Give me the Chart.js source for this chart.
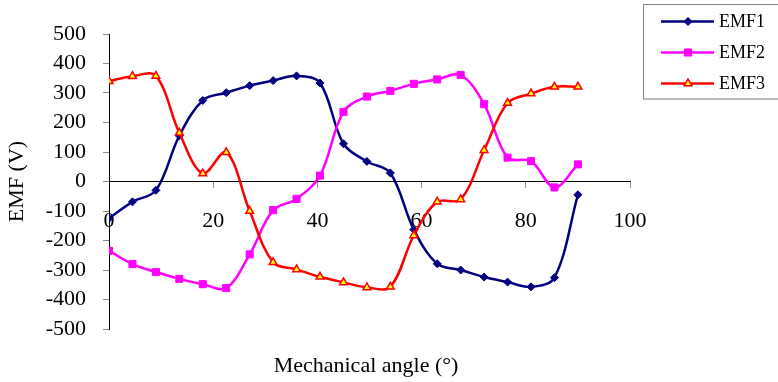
<!DOCTYPE html>
<html>
<head>
<meta charset="utf-8">
<script src="https://cdn.jsdelivr.net/npm/chart.js@4/dist/chart.umd.min.js"></script>
<style>
  html, body { margin: 0; padding: 0; background: #fff; }
  #wrap { width: 778px; height: 382px; }
</style>
</head>
<body>
<div id="wrap"><canvas id="c" width="778" height="382"></canvas></div>
<script>
// Mechanical angle samples (degrees)
const angles = [0, 4.5, 9, 13.5, 18, 22.5, 27, 31.5, 36, 40.5, 45, 49.5, 54, 58.5, 63, 67.5, 72, 76.5, 81, 85.5, 90];

// Back-EMF of the three phases (V)
const emf1 = [-125, -69, -30, 155, 275, 301, 325, 342, 358, 334, 128, 68, 29, -163, -279, -300, -324, -341, -357, -326, -45];
const emf2 = [-235, -280, -307, -330, -348, -361, -247, -97, -59, 20, 236, 288, 307, 331, 346, 361, 262, 81, 69, -20, 58];
const emf3 = [340, 357, 358, 165, 27, 99, -100, -274, -298, -323, -342, -359, -357, -183, -69, -61, 106, 266, 298, 321, 321];

const seriesNames = ['EMF1', 'EMF2', 'EMF3'];
const xTitle = 'Mechanical angle (\u00B0)';
const yTitle = 'EMF (V)';

const SERIF = "'Liberation Serif', 'Times New Roman', serif";

function toPoints(ys) {
  return angles.map((a, i) => ({ x: a, y: ys[i] }));
}

// Boxed legend on the right, built from the datasets
const boxLegend = {
  id: 'boxLegend',
  afterDraw(chart) {
    const ctx = chart.ctx;
    ctx.save();
    ctx.strokeStyle = '#7f7f7f';
    ctx.lineWidth = 1;
    ctx.strokeRect(643.5, 4.5, 140, 94.5);
    const rows = [21.5, 52.5, 83.5];
    chart.data.datasets.forEach((ds, i) => {
      const y = rows[i];
      ctx.strokeStyle = ds.borderColor;
      ctx.lineWidth = ds.borderWidth;
      ctx.beginPath();
      ctx.moveTo(661, y);
      ctx.lineTo(714, y);
      ctx.stroke();
      ctx.fillStyle = ds.pointBackgroundColor;
      ctx.strokeStyle = ds.pointBorderColor;
      ctx.lineWidth = ds.pointBorderWidth;
      Chart.helpers.drawPoint(ctx, { pointStyle: ds.pointStyle, radius: ds.pointRadius, rotation: 0, borderWidth: ds.pointBorderWidth }, 688, y);
      ctx.fillStyle = '#000';
      ctx.font = '18px ' + SERIF;
      ctx.textAlign = 'left';
      ctx.textBaseline = 'middle';
      ctx.fillText(ds.label, 719, y + 1);
    });
    ctx.restore();
  }
};

// Horizontal axis title under the plot
const bottomTitle = {
  id: 'bottomTitle',
  afterDraw(chart) {
    const ctx = chart.ctx;
    ctx.save();
    ctx.fillStyle = '#000';
    ctx.font = '22px ' + SERIF;
    ctx.textAlign = 'center';
    ctx.textBaseline = 'alphabetic';
    ctx.fillText(xTitle, 366, 372);
    ctx.restore();
  }
};

const lineCommon = {
  borderWidth: 2.5,
  tension: 0.35,
  fill: false,
  pointBorderWidth: 1
};

new Chart(document.getElementById('c'), {
  type: 'line',
  data: {
    datasets: [
      Object.assign({}, lineCommon, {
        label: seriesNames[0],
        data: toPoints(emf1),
        borderColor: '#000080',
        pointBackgroundColor: '#000080',
        pointBorderColor: '#000080',
        pointStyle: 'rectRot',
        pointRadius: 4,
        order: 3
      }),
      Object.assign({}, lineCommon, {
        label: seriesNames[1],
        data: toPoints(emf2),
        borderColor: '#ff00ff',
        pointBackgroundColor: '#ff00ff',
        pointBorderColor: '#ff00ff',
        pointStyle: 'rect',
        pointRadius: 5,
        order: 2
      }),
      Object.assign({}, lineCommon, {
        label: seriesNames[2],
        data: toPoints(emf3),
        borderColor: '#ff0000',
        pointBackgroundColor: '#ffff00',
        pointBorderColor: '#ff0000',
        pointBorderWidth: 1.5,
        pointStyle: 'triangle',
        pointRadius: 4.5,
        order: 1
      })
    ]
  },
  options: {
    responsive: false,
    devicePixelRatio: 1,
    animation: false,
    layout: { padding: { top: 34, right: 148, bottom: 53, left: 0 } },
    plugins: {
      legend: { display: false },
      tooltip: { enabled: false },
      title: { display: false }
    },
    scales: {
      x: {
        type: 'linear',
        min: 0,
        max: 100,
        position: { y: 0 },
        ticks: {
          stepSize: 20,
          color: '#000',
          padding: 21,
          maxRotation: 0,
          font: { family: SERIF, size: 22 }
        },
        grid: { drawOnChartArea: false, drawTicks: true, tickLength: 6, color: '#8a8a8a' },
        border: { display: true, color: '#000', width: 1 }
      },
      y: {
        type: 'linear',
        min: -500,
        max: 500,
        position: 'left',
        afterFit(scale) { scale.width = 109; },
        ticks: {
          stepSize: 100,
          color: '#000',
          padding: 17,
          font: { family: SERIF, size: 22 }
        },
        grid: { drawOnChartArea: false, drawTicks: true, tickLength: 6, color: '#8a8a8a' },
        border: { display: true, color: '#000', width: 1 },
        title: {
          display: true,
          text: yTitle,
          color: '#000',
          padding: { top: 4, bottom: 0 },
          font: { family: SERIF, size: 22 }
        }
      }
    }
  },
  plugins: [boxLegend, bottomTitle]
});
</script>
</body>
</html>
